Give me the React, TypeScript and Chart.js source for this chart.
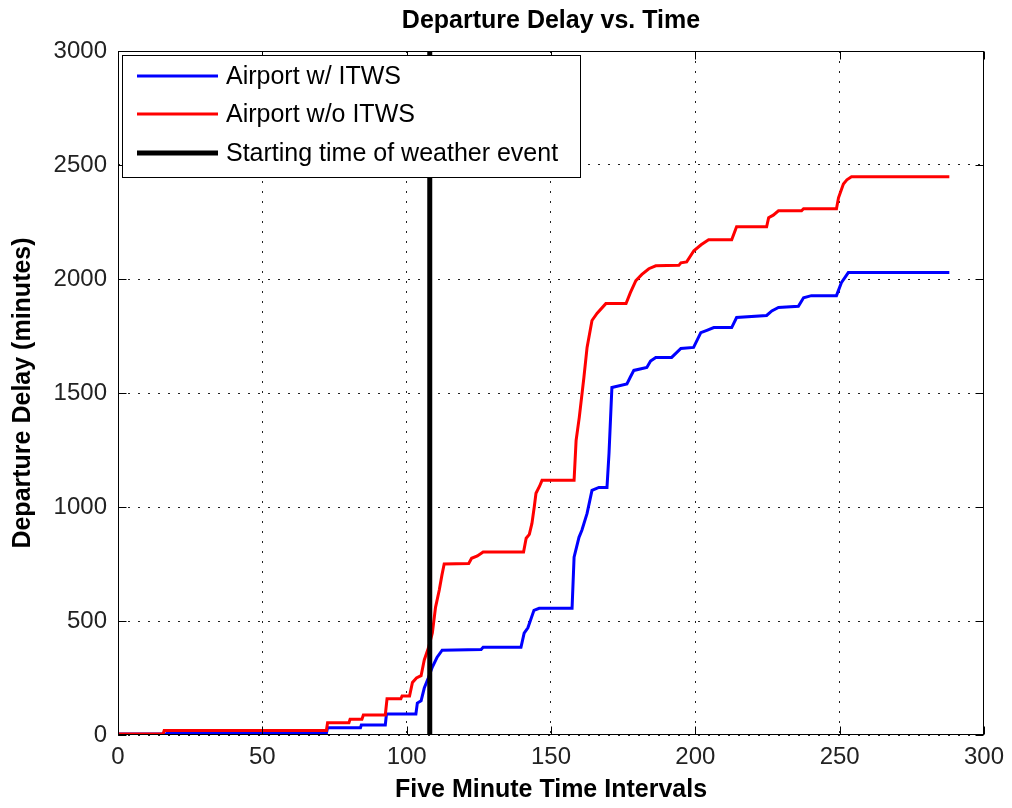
import { useEffect, useRef } from 'react';
import { Chart, registerables } from 'chart.js';

Chart.register(...registerables);

const FONT = "'Liberation Sans', Arial, Helvetica, sans-serif";

const chartTitle = 'Departure Delay vs. Time';
const xAxisTitle = 'Five Minute Time Intervals';
const yAxisTitle = 'Departure Delay (minutes)';
const seriesNames = ['Airport w/ ITWS', 'Airport w/o ITWS', 'Starting time of weather event'];
const seriesColors = ['#0000ff', '#ff0000', '#000000'];

const xTickValues = [0, 50, 100, 150, 200, 250, 300];
const yTickValues = [0, 500, 1000, 1500, 2000, 2500, 3000];

const withItwsTime = [
  0, 16.8, 17, 72.2, 72.6, 84, 84.3, 92.6, 93, 103.2, 103.7, 105, 106.1, 107.5, 108.9, 110.5, 112.3,
  125.8, 126.5, 139.6, 140.7, 142, 144.1, 145.9, 157.3, 158, 159.7, 160.7, 162.5, 164.2, 166.6, 169.4,
  170.1, 171.1, 176.3, 177.5, 178.7, 183.2, 184.5, 186.3, 191.8, 195, 199.4, 201.9, 204, 206.4, 212.6,
  214.3, 224.7, 226.5, 228.8, 235.7, 237.5, 240.2, 248.9, 250.6, 253, 288,
];
const withItwsDelay = [
  4, 4, 8, 8, 32, 32, 44, 44, 92, 92, 140, 150, 206, 250, 298, 340, 372,
  375, 385, 385, 447, 470, 547, 556, 556, 780, 867, 898, 972, 1073, 1086, 1086,
  1235, 1524, 1540, 1570, 1599, 1612, 1640, 1656, 1656, 1695, 1700, 1765, 1775, 1787, 1787,
  1831, 1840, 1860, 1875, 1880, 1918, 1927, 1927, 1984, 2028, 2028,
];

const withoutItwsTime = [
  0, 15.6, 16, 72.2, 72.6, 80, 80.4, 84.5, 85, 92.6, 93.2, 98, 98.4, 101, 102, 103.4, 105, 106.1,
  107.5, 108.9, 110, 111.3, 112.2, 113, 121.5, 122.5, 124.5, 126.5, 140.5, 141.4, 142.5, 143.4, 144.2,
  144.8, 146, 146.9, 158, 158.7, 159.8, 161.4, 162.5, 164.2, 166, 169, 176, 177.5, 179.4, 181.5, 183.9,
  186.3, 194.3, 195, 197, 199.5, 202, 204.6, 212.6, 214.3, 224.7, 225.4, 227, 228.8, 236.8, 237.5,
  248.9, 249.6, 251.3, 252.5, 254.1, 288,
];
const withoutItwsDelay = [
  4, 4, 20, 20, 54, 54, 69, 69, 88, 88, 159, 159, 171, 171, 230, 250, 260, 329,
  380, 447, 560, 636, 700, 750, 752, 775, 785, 803, 803, 863, 880, 928, 1000,
  1060, 1090, 1117, 1117, 1292, 1393, 1568, 1700, 1818, 1850, 1892, 1892, 1940, 1993, 2020, 2045,
  2058, 2060, 2071, 2075, 2124, 2150, 2172, 2172, 2229, 2229, 2269, 2280, 2299, 2299, 2308,
  2308, 2356, 2417, 2435, 2448, 2448,
];

const weatherStartTime = [108, 108];
const weatherLineDelay = [0, 3000];

const toPoints = (xs: number[], ys: number[]) => xs.map((x, i) => ({ x, y: ys[i] }));

const framePlugin = {
  id: 'matlabFrame',
  afterDraw(chart: any) {
    const { ctx, chartArea } = chart;
    const xs = chart.scales.x;
    const ys = chart.scales.y;
    const L = Math.round(chartArea.left) + 0.5;
    const R = Math.round(chartArea.right) - 0.5;
    const T = Math.round(chartArea.top) + 0.5;
    const B = Math.round(chartArea.bottom) - 0.5;
    ctx.save();
    ctx.strokeStyle = '#000';
    ctx.lineWidth = 1;
    ctx.setLineDash([]);
    ctx.strokeRect(L, T, R - L, B - T);
    const tl = 8;
    ctx.beginPath();
    xTickValues.forEach((v) => {
      const px = Math.round(xs.getPixelForValue(v)) + 0.5;
      ctx.moveTo(px, B);
      ctx.lineTo(px, B - tl);
      ctx.moveTo(px, T);
      ctx.lineTo(px, T + tl);
    });
    yTickValues.forEach((v) => {
      const py = Math.round(ys.getPixelForValue(v)) + 0.5;
      ctx.moveTo(L, py);
      ctx.lineTo(L + tl, py);
      ctx.moveTo(R, py);
      ctx.lineTo(R - tl, py);
    });
    ctx.stroke();

    // title
    ctx.fillStyle = '#000';
    ctx.font = `bold 25px ${FONT}`;
    ctx.textAlign = 'center';
    ctx.textBaseline = 'middle';
    ctx.fillText(chartTitle, (chartArea.left + chartArea.right) / 2, 21);

    // legend
    const lx = chartArea.left + 4.5;
    const ly = chartArea.top + 4.5;
    const lw = 458;
    const lh = 122;
    ctx.fillStyle = '#fff';
    ctx.fillRect(lx, ly, lw, lh);
    ctx.strokeStyle = '#000';
    ctx.lineWidth = 1;
    ctx.strokeRect(lx, ly, lw, lh);
    const rows = [76, 114, 153];
    const widths = [3, 3, 5];
    seriesNames.forEach((name, i) => {
      const y = rows[i];
      ctx.beginPath();
      ctx.strokeStyle = seriesColors[i];
      ctx.lineWidth = widths[i];
      ctx.moveTo(137, y);
      ctx.lineTo(218, y);
      ctx.stroke();
      ctx.fillStyle = '#000';
      ctx.font = `25px ${FONT}`;
      ctx.textAlign = 'left';
      ctx.textBaseline = 'middle';
      ctx.fillText(name, 226, y + 1);
    });
    ctx.restore();
  },
};

export default function App() {
  const ref = useRef<HTMLCanvasElement | null>(null);
  useEffect(() => {
    if (!ref.current) return;
    const chart = new Chart(ref.current, {
      type: 'line',
      data: {
        datasets: [
          {
            label: seriesNames[2],
            data: toPoints(weatherStartTime, weatherLineDelay),
            borderColor: seriesColors[2],
            borderWidth: 5,
            pointRadius: 0,
            fill: false,
          },
          {
            label: seriesNames[1],
            data: toPoints(withoutItwsTime, withoutItwsDelay),
            borderColor: seriesColors[1],
            borderWidth: 3,
            pointRadius: 0,
            fill: false,
            tension: 0,
          },
          {
            label: seriesNames[0],
            data: toPoints(withItwsTime, withItwsDelay),
            borderColor: seriesColors[0],
            borderWidth: 3,
            pointRadius: 0,
            fill: false,
            tension: 0,
          },
        ],
      },
      options: {
        animation: false,
        responsive: false,
        maintainAspectRatio: false,
        events: [],
        layout: { padding: { top: 51, right: 26, left: 0, bottom: 0 } },
        plugins: {
          legend: { display: false },
          title: { display: false },
          tooltip: { enabled: false },
        },
        scales: {
          x: {
            type: 'linear',
            min: 0,
            max: 300,
            afterBuildTicks: (s: any) => {
              s.ticks = xTickValues.map((v) => ({ value: v }));
            },
            afterFit: (s: any) => {
              s.height = 73;
            },
            ticks: {
              font: { family: FONT, size: 24 },
              color: '#222',
              padding: 8,
              maxRotation: 0,
              autoSkip: false,
              callback: (v: any) => String(v),
            },
            grid: { drawTicks: false, color: '#222', lineWidth: 1 },
            border: { display: false, dash: [2, 8] },
            title: {
              display: true,
              text: xAxisTitle,
              color: '#000',
              font: { family: FONT, size: 25, weight: 'bold' },
              padding: { top: 0, bottom: 3 },
            },
          },
          y: {
            type: 'linear',
            min: 0,
            max: 3000,
            afterBuildTicks: (s: any) => {
              s.ticks = yTickValues.map((v) => ({ value: v }));
            },
            afterFit: (s: any) => {
              s.width = 118;
            },
            ticks: {
              font: { family: FONT, size: 24 },
              color: '#222',
              padding: 11,
              autoSkip: false,
              callback: (v: any) => String(v),
            },
            grid: { drawTicks: false, color: '#222', lineWidth: 1 },
            border: { display: false, dash: [2, 8] },
            title: {
              display: true,
              text: yAxisTitle,
              color: '#000',
              font: { family: FONT, size: 25, weight: 'bold' },
              padding: { top: 8, bottom: 0 },
            },
          },
        },
      },
      plugins: [framePlugin],
    } as any);
    return () => chart.destroy();
  }, []);
  return (
    <div style={{ position: 'absolute', left: 0, top: 0, width: 1012, height: 808, background: '#fff' }}>
      <canvas ref={ref} width={1012} height={808} style={{ display: 'block' }} />
    </div>
  );
}
